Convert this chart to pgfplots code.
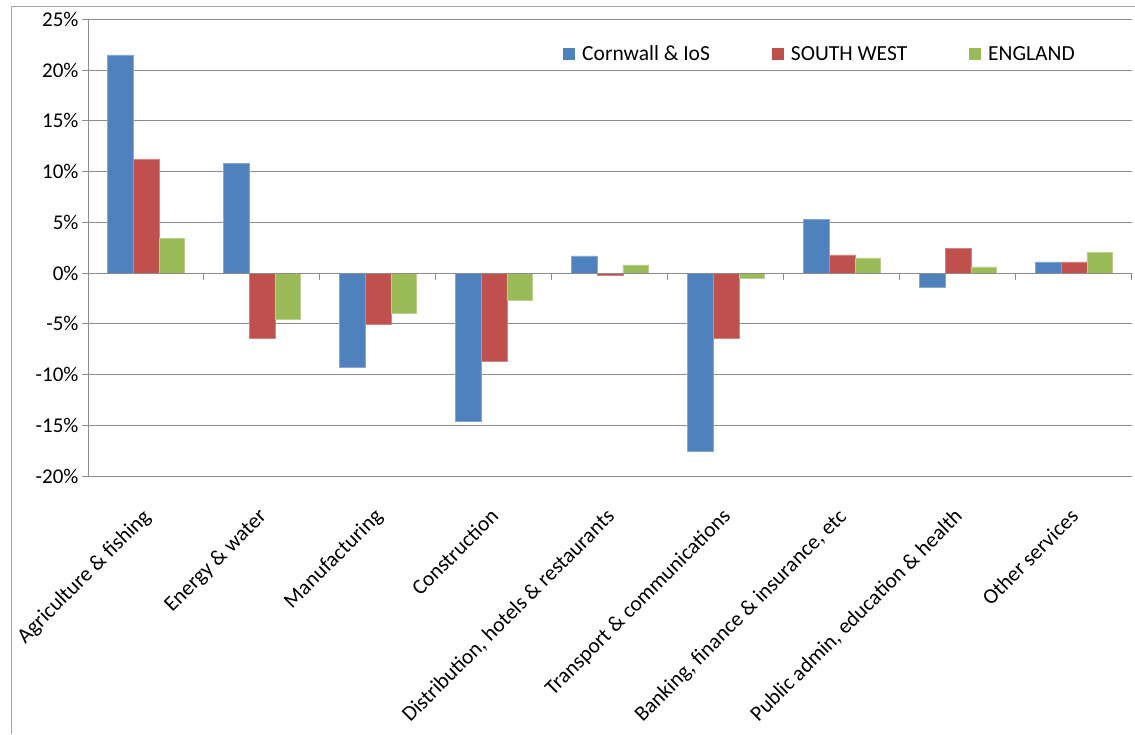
\documentclass[border=0pt]{standalone}
\usepackage{fontspec}
\setmainfont{Carlito}
\usepackage{pgfplots}
\pgfplotsset{compat=1.18}
\definecolor{cblue}{HTML}{4F81BD}
\definecolor{cred}{HTML}{C0504D}
\definecolor{cgreen}{HTML}{9BBB59}
\definecolor{gridgray}{HTML}{8C8C8C}
\definecolor{framegray}{HTML}{A6A6A6}
\begin{document}
\begin{tikzpicture}
\path[use as bounding box] (0pt,0pt) rectangle (1135pt,734pt);
\fill[white] (0pt,0pt) rectangle (1135pt,734pt);
\draw[framegray, line width=1pt] (11pt,0pt) -- (11pt,727pt) -- (1135pt,727pt);
\begin{axis}[
  at={(88pt,258pt)}, anchor=south west,
  scale only axis, width=1044pt, height=456.7pt,
  xmin=-0.5, xmax=8.5, ymin=-20, ymax=25,
  axis x line*=bottom, axis y line*=left,
  x axis line style={draw=none},
  y axis line style={gridgray, line width=1pt},
  tick align=outside,
  major tick length=6pt,
  xtick={0,...,8},
  xtick style={draw=none},
  ytick style={gridgray, line width=1pt},
  ytick={-20,-15,...,25},
  yticklabels={-20\%,-15\%,-10\%,-5\%,0\%,5\%,10\%,15\%,20\%,25\%},
  yticklabel style={font=\fontsize{21}{24}\selectfont, anchor=east, xshift=0pt},
  xticklabels={Agriculture \& fishing, Energy \& water, Manufacturing, Construction, {Distribution, hotels \& restaurants}, Transport \& communications, {Banking, finance \& insurance, etc}, {Public admin, education \& health}, Other services},
  xticklabel style={font=\fontsize{21.5}{24}\selectfont, yshift=-25pt, xshift=-5pt, rotate=45, anchor=north east, inner sep=0pt},
  ymajorgrids,
  grid style={gridgray, line width=1pt},
  ybar=0pt, bar width=0.2215,
  legend columns=3,
  legend style={at={(0.455,0.924)}, anchor=west, draw=none, fill=white, inner sep=0pt,
    font=\fontsize{21.5}{24}\selectfont,
    /tikz/every odd column/.append style={column sep=5pt},
    /tikz/every even column/.append style={column sep=60pt}},
  legend image code/.code={\fill[#1,draw=none] (0pt,-6pt) rectangle (12pt,6pt);},
  clip=false,
]
\addplot[fill=cblue, draw=cblue!70!white, line width=0.5pt] coordinates {
 (0,21.5) (1,10.8) (2,-9.3) (3,-14.6) (4,1.7) (5,-17.6) (6,5.3) (7,-1.4) (8,1.1)};
\addlegendentry{Cornwall \& IoS}
\addplot[fill=cred, draw=cred!70!white, line width=0.5pt] coordinates {
 (0,11.2) (1,-6.4) (2,-5.0) (3,-8.7) (4,-0.2) (5,-6.4) (6,1.8) (7,2.4) (8,1.1)};
\addlegendentry{SOUTH WEST}
\addplot[fill=cgreen, draw=cgreen!70!white, line width=0.5pt] coordinates {
 (0,3.4) (1,-4.6) (2,-4.0) (3,-2.7) (4,0.8) (5,-0.5) (6,1.5) (7,0.6) (8,2.0)};
\addlegendentry{ENGLAND}
\draw[gridgray, line width=1pt] (axis cs:-0.5,0) -- (axis cs:8.5,0);
\pgfplotsinvokeforeach{0.5,1.5,2.5,3.5,4.5,5.5,6.5,7.5,8.5}{
  \draw[gridgray, line width=1pt] (axis cs:#1,0) -- ++(0pt,-7pt);
}
\end{axis}
\end{tikzpicture}
\end{document}
